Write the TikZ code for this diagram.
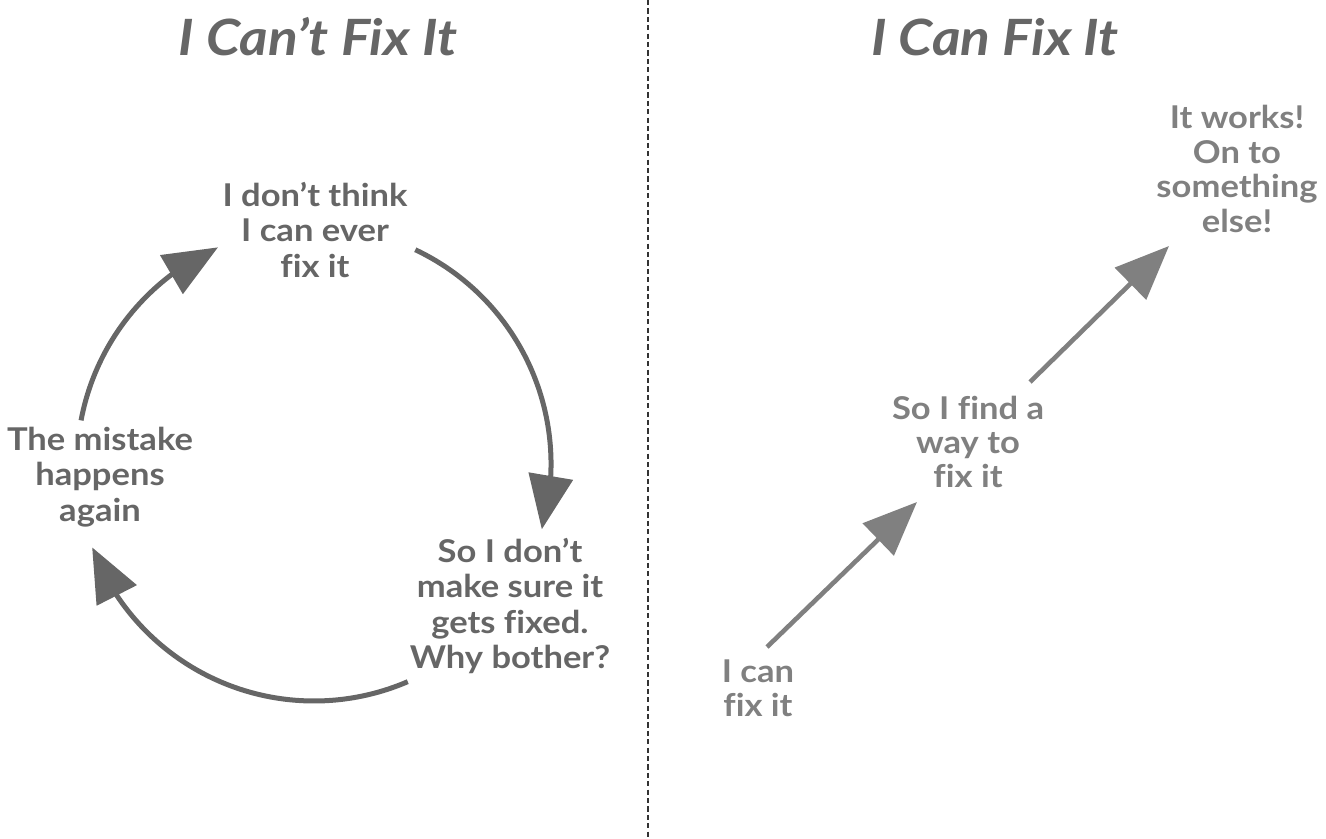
\documentclass[tikz,border=0pt]{standalone}
\usepackage{fontspec}
\setmainfont{Lato}[FakeStretch=1.1, Ligatures=NoCommon]
\usetikzlibrary{arrows.meta,bending,calc}
\definecolor{LoopGray}{HTML}{666666}
\definecolor{StepGray}{HTML}{808080}
\definecolor{RuleGray}{HTML}{333333}
\tikzset{
  headline/.style={text=LoopGray, inner sep=0pt, font=\fontsize{25}{29}\selectfont\bfseries\itshape},
  looplbl/.style={text=LoopGray, inner sep=0pt, align=center, font=\fontsize{15.7}{17.8}\selectfont\bfseries},
  steplbl/.style={text=StepGray, inner sep=0pt, align=center, font=\fontsize{15.7}{17.2}\selectfont\bfseries},
  looparr/.style={draw=LoopGray, line width=2.5pt, -{Triangle[length=27pt, width=22pt, flex]}},
  steparr/.style={draw=StepGray, line width=2.3pt, -{Triangle[length=27pt, width=22pt]}}
}
\begin{document}
\begin{tikzpicture}[x=.5pt,y=.5pt]
\useasboundingbox (0,0) rectangle (1326,-839);
% divider
\coordinate (ruletop) at (648,0);
\coordinate (rulebot) at (648,-839);
\draw[RuleGray, line width=1.1pt, dash pattern=on 2.6pt off 1.6pt] (ruletop) -- (rulebot);

% left: the loop
\node[headline] (titleL) at (318,-37) {I Can’t Fix It};
\node[looplbl] (think) at (315,-230) {I don’t think\\I can ever\\fix it};
\node[looplbl] (bother) at (510,-606) {So I don’t\\make sure it\\gets fixed.\\Why bother?};
\node[looplbl] (again) at (100,-477) {The mistake\\happens\\again};
\coordinate (ctr) at (314,-464);
\coordinate (a1) at ($(ctr)+(64.7:237)$);
\coordinate (a2) at ($(ctr)+(-66.7:237)$);
\coordinate (a3) at ($(ctr)+(169.4:237)$);
\draw[looparr] (a1) arc[start angle=64.7, end angle=-16, radius=237];
\draw[looparr] (a2) arc[start angle=-66.7, end angle=-159.4, radius=237];
\draw[looparr] (a3) arc[start angle=169.4, end angle=113.9, radius=237];

% right: the steps
\node[headline] (titleR) at (995,-37) {I Can Fix It};
\node[steplbl] (can) at (758,-688) {I can\\fix it};
\node[steplbl] (find) at (968,-442) {So I find a\\way to\\fix it};
\node[steplbl] (works) at (1237,-169) {It works!\\On to\\something\\else!};
\coordinate (s1) at (767,-647);
\coordinate (e1) at (917,-502);
\coordinate (s2) at (1030,-382);
\coordinate (e2) at (1169,-246);
\draw[steparr] (s1) -- (e1);
\draw[steparr] (s2) -- (e2);
\end{tikzpicture}
\end{document}
